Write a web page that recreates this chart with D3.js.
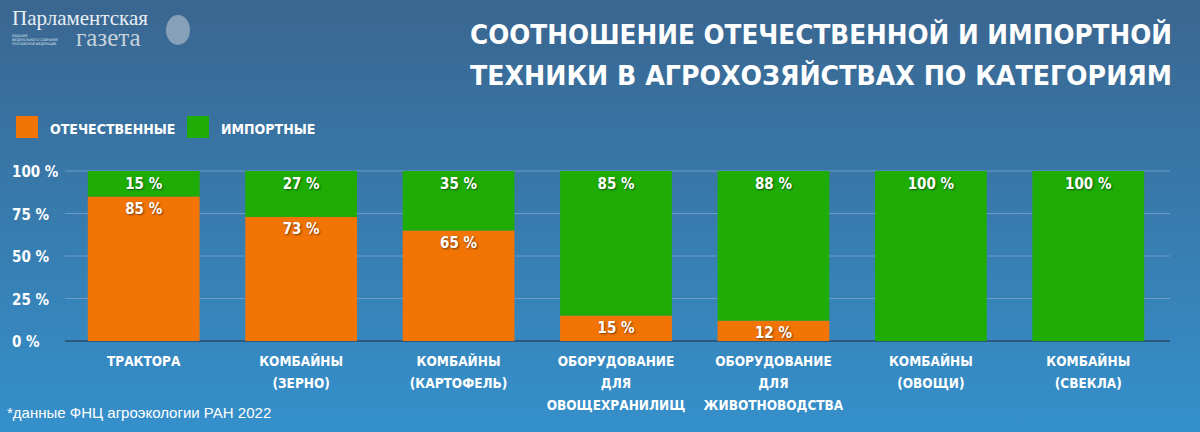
<!DOCTYPE html>
<html><head><meta charset="utf-8">
<script src="https://cdn.jsdelivr.net/npm/d3@7"></script>
<style>body{margin:0}svg{display:block}</style>
</head><body>
<script>
// data
const categories = [["ТРАКТОРА"],["КОМБАЙНЫ","(ЗЕРНО)"],["КОМБАЙНЫ","(КАРТОФЕЛЬ)"],["ОБОРУДОВАНИЕ","ДЛЯ","ОВОЩЕХРАНИЛИЩ"],["ОБОРУДОВАНИЕ","ДЛЯ","ЖИВОТНОВОДСТВА"],["КОМБАЙНЫ","(ОВОЩИ)"],["КОМБАЙНЫ","(СВЕКЛА)"]];
const domestic = [85, 73, 65, 15, 12, 0, 0];
const imported = [15, 27, 35, 85, 88, 100, 100];
const ticks = [0, 25, 50, 75, 100];
const orange = "#f27405", green = "#1fac05";
const font = "'DejaVu Sans Condensed','DejaVu Sans',sans-serif";

const W = 1200, H = 432;
const svg = d3.select("body").append("svg").attr("width", W).attr("height", H);
const grad = svg.append("defs").append("linearGradient").attr("id","bg").attr("x1",0).attr("x2",0).attr("y1",0).attr("y2",1);
grad.append("stop").attr("offset",0).attr("stop-color","#3a6690");
grad.append("stop").attr("offset",1).attr("stop-color","#3590cb");
svg.append("rect").attr("width",W).attr("height",H).attr("fill","url(#bg)");

// logo
svg.append("text").attr("x",12).attr("y",25).attr("font-family","'Liberation Serif',serif").attr("font-size",21).attr("fill","#e8eef3").text("Парламентская");
svg.append("text").attr("x",76).attr("y",46).attr("font-family","'Liberation Serif',serif").attr("font-size",25).attr("fill","#c8d3dc").text("газета");
["ИЗДАНИЕ","ФЕДЕРАЛЬНОГО СОБРАНИЯ","РОССИЙСКОЙ ФЕДЕРАЦИИ"].forEach((t,i)=>
  svg.append("text").attr("x",12).attr("y",37+i*4).attr("font-family",font).attr("font-size",3.5).attr("fill","#dfe6ec").text(t));
svg.append("ellipse").attr("cx",178).attr("cy",30).attr("rx",12).attr("ry",15).attr("fill","#b9c6d1").attr("opacity",0.6);

// title
const title = ["Соотношение отечественной и импортной","техники в агрохозяйствах по категориям"];
title.forEach((t,i)=>svg.append("text").attr("x",1172).attr("y",44+i*41).attr("text-anchor","end")
  .attr("font-family",font).attr("font-weight","bold").attr("font-size",27).attr("fill","#fff")
  .attr("textLength",702).attr("lengthAdjust","spacingAndGlyphs").text(t.toUpperCase()));

// legend
[[orange,"ОТЕЧЕСТВЕННЫЕ",16],[green,"ИМПОРТНЫЕ",187]].forEach(([c,t,x])=>{
  svg.append("rect").attr("x",x).attr("y",116).attr("width",22).attr("height",22).attr("fill",c);
  svg.append("text").attr("x",x+34).attr("y",134).attr("font-family",font).attr("font-weight","bold").attr("font-size",14).attr("fill","#fff").text(t);
});

// scales
const x = d3.scaleBand().domain(d3.range(categories.length)).range([65,1167]).paddingInner(0.29).paddingOuter(0.145);
const y = d3.scaleLinear().domain([0,100]).range([341,171]);

const g = svg.append("g");
g.selectAll(".grid").data(ticks).join("line").attr("x1",65).attr("x2",1170)
  .attr("y1",d=>y(d)).attr("y2",d=>y(d)).attr("stroke",d=>d===0?"#2a4b6a":"#6f9cc4").attr("stroke-width",d=>d===0?1.5:1);
g.selectAll(".tick").data(ticks).join("text").attr("x",12).attr("y",d=>y(d)+6)
  .attr("font-family",font).attr("font-weight","bold").attr("font-size",15).attr("fill","#fff").text(d=>d+" %");

const idx = d3.range(categories.length);
g.selectAll(".dom").data(idx).join("rect").attr("x",i=>x(i)).attr("width",x.bandwidth())
  .attr("y",i=>y(domestic[i])).attr("height",i=>y(0)-y(domestic[i])).attr("fill",orange);
g.selectAll(".imp").data(idx).join("rect").attr("x",i=>x(i)).attr("width",x.bandwidth())
  .attr("y",i=>y(domestic[i]+imported[i])).attr("height",i=>y(domestic[i])-y(domestic[i]+imported[i])).attr("fill",green);

const lbl = (sel)=>sel.attr("text-anchor","middle").attr("font-family",font).attr("font-weight","bold")
  .attr("font-size",15).attr("fill","#fff").attr("style","text-shadow:1px 1px 2px rgba(0,0,0,0.5)");
g.selectAll(".il").data(idx).join("text").call(lbl).attr("x",i=>x(i)+x.bandwidth()/2).attr("y",y(100)+18).text(i=>imported[i]+" %");
g.selectAll(".dl").data(idx.filter(i=>domestic[i]>0)).join("text").call(lbl).attr("x",i=>x(i)+x.bandwidth()/2).attr("y",i=>y(domestic[i])+17).text(i=>domestic[i]+" %");

// category labels
const cl = g.selectAll(".cl").data(idx).join("text").attr("text-anchor","middle").attr("font-family",font)
  .attr("font-weight","bold").attr("font-size",13.5).attr("fill","#fff");
cl.each(function(i){
  d3.select(this).selectAll("tspan").data(categories[i]).join("tspan")
    .attr("x",x(i)+x.bandwidth()/2).attr("y",(d,k)=>366+k*22).text(d=>d);
});

svg.append("text").attr("x",7).attr("y",418).attr("font-family","'Liberation Sans',Arial,sans-serif").attr("font-size",15).attr("fill","#fff").text("*данные ФНЦ агроэкологии РАН 2022");
</script>
</body></html>
